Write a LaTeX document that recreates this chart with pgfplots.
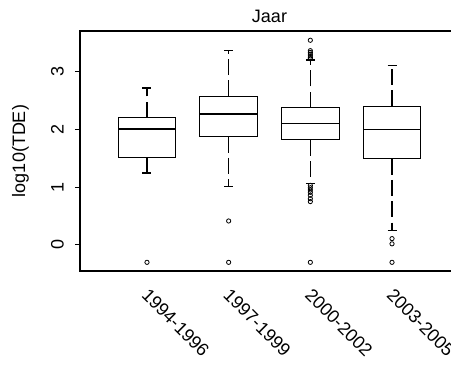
\documentclass[border=0pt]{standalone}
\usepackage{pgfplots}
\pgfplotsset{compat=1.18}
\usepgfplotslibrary{statistics}
\usepackage{fontspec}
\setmainfont{Liberation Sans}
\tikzset{rline/.style={line width=0.9pt, black, solid}}
\pgfplotsset{
  boxplot/draw/lower whisker/.code={
    \draw[rline, dash pattern=on 12pt off 4pt] (boxplot box cs:\pgfplotsboxplotvalue{lower quartile},0.5) -- (boxplot box cs:\pgfplotsboxplotvalue{lower whisker},0.5);
    \draw[rline] (boxplot whisker cs:\pgfplotsboxplotvalue{lower whisker},0) -- (boxplot whisker cs:\pgfplotsboxplotvalue{lower whisker},1);
  },
  boxplot/draw/upper whisker/.code={
    \draw[rline, dash pattern=on 12pt off 4pt] (boxplot box cs:\pgfplotsboxplotvalue{upper quartile},0.5) -- (boxplot box cs:\pgfplotsboxplotvalue{upper whisker},0.5);
    \draw[rline] (boxplot whisker cs:\pgfplotsboxplotvalue{upper whisker},0) -- (boxplot whisker cs:\pgfplotsboxplotvalue{upper whisker},1);
  },
  rbox/.style={
    black, solid, line width=0.9pt,
    mark=o, mark size=1.6pt, mark options={solid, line width=0.6pt, black},
    boxplot/draw direction=y,
    boxplot/box extend=0.706,
    boxplot/whisker extend=0.11,
  },
}
\begin{document}
\begin{tikzpicture}
\begin{axis}[
  at={(60pt,70.5pt)}, anchor=south west,
  scale only axis, width=284.25pt, height=180pt,
  xmin=0.18, xmax=4.82, ymin=-0.45, ymax=3.70,
  axis line style={line width=0.9pt},
  font=\fontsize{13.5}{15}\selectfont,
  /pgf/number format/assume math mode=true,
  xtick={1,2,3,4},
  xticklabels={1994-1996,1997-1999,2000-2002,2003-2005},
  x tick style={draw=none},
  xticklabel style={yshift=-8.5pt, xshift=2pt, rotate=-45, anchor=north west, inner sep=0pt},
  ytick={0,1,2,3},
  ytick pos=left, tick align=outside,
  major tick length=3.75pt,
  y tick style={line width=0.75pt, black},
  yticklabel style={xshift=-8.6pt, rotate=90, anchor=base},
  ylabel={log10(TDE)},
  every axis y label/.style={at={(axis description cs:-0.145,0.5)}, rotate=90, anchor=base},
  title={Jaar},
  every axis title/.style={at={(axis description cs:0.5,1)}, anchor=base, yshift=6.2pt},
]
\addplot+[rbox, boxplot prepared={draw position=1,
  lower whisker=1.246, lower quartile=1.517, median=2.007,
  upper quartile=2.200, upper whisker=2.716}]
  table[row sep=\\, y index=0] {-0.30\\};
\addplot+[rbox, boxplot prepared={draw position=2,
  lower whisker=1.009, lower quartile=1.874, median=2.266,
  upper quartile=2.570, upper whisker=3.360}]
  table[row sep=\\, y index=0] {0.415\\ -0.30\\};
\addplot+[rbox, boxplot prepared={draw position=3,
  lower whisker=1.067, lower quartile=1.817, median=2.105,
  upper quartile=2.375, upper whisker=3.200}]
  table[row sep=\\, y index=0] {3.54\\ 3.36\\ 3.33\\ 3.30\\ 3.27\\ 3.24\\ 3.22\\ 1.03\\ 0.99\\ 0.95\\ 0.91\\ 0.86\\ 0.80\\ 0.75\\ -0.30\\};
\addplot+[rbox, boxplot prepared={draw position=4,
  lower whisker=0.254, lower quartile=1.493, median=1.995,
  upper quartile=2.400, upper whisker=3.097}]
  table[row sep=\\, y index=0] {0.11\\ 0.02\\ -0.30\\};
\end{axis}
\pgfresetboundingbox
\useasboundingbox (0,0) rectangle (338.25pt,273.75pt);
\end{tikzpicture}
\end{document}
